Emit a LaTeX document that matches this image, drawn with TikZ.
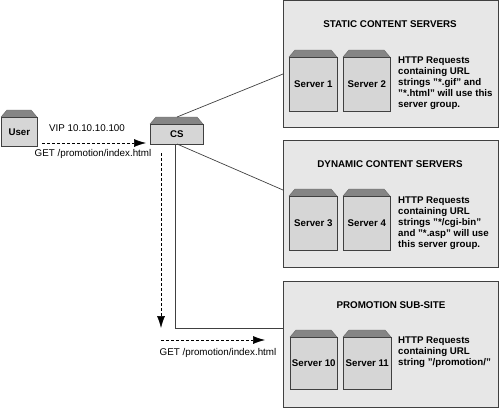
\documentclass[tikz,border=0pt]{standalone}
\usepackage{fontspec}
\setmainfont{Liberation Sans}
\usetikzlibrary{arrows.meta}
\definecolor{panelfill}{gray}{0.905}
\definecolor{boxfill}{gray}{0.84}
\definecolor{roof}{gray}{0.52}
\definecolor{ink}{gray}{0.25}
\definecolor{roofline}{gray}{0.4}
\tikzset{
 x=1pt,y=-1pt,
 panel/.style={draw=ink,fill=panelfill,line width=0.8pt},
 lbl/.style={font=\fontsize{9.8}{11}\selectfont,text=black,inner sep=0pt},
 title/.style={lbl,font=\fontsize{9.8}{11}\selectfont\bfseries},
 note/.style={lbl,font=\fontsize{9.7}{11}\selectfont\bfseries,align=left,anchor=north west},
 conn/.style={draw=ink,line width=0.7pt},
 flow/.style={draw=black,line width=0.6pt,densely dashed,-{Latex[length=12pt,width=8pt]}},
 unitlabel/.style={font=\fontsize{9.7}{10}\selectfont\bfseries},
}
% #1 name, #2 left, #3 top, #4 right, #5 bottom, #6 label
\newcommand{\boxunit}[6]{%
 \fill[roof] (#2,#3+7) -- (#2+6,#3) -- (#4-6,#3) -- (#4,#3+7) -- cycle;
 \draw[roofline,line width=0.4pt] (#2,#3+7) -- (#2+6,#3) -- (#4-6,#3) -- (#4,#3+7);
 \node[draw=ink,fill=boxfill,line width=0.6pt,minimum width=#4pt-#2pt,minimum height=#5pt-#3pt-7pt,inner sep=0pt,anchor=north west,unitlabel] (#1) at (#2,#3+7) {#6};
}
\begin{document}
\begin{tikzpicture}
\useasboundingbox (0,0) rectangle (500,408);
\node[panel,minimum width=215pt,minimum height=127pt,inner sep=0pt,anchor=north west] (p1) at (283,0) {};
\node[panel,minimum width=215pt,minimum height=127pt,inner sep=0pt,anchor=north west] (p2) at (283,140) {};
\node[panel,minimum width=215pt,minimum height=126pt,inner sep=0pt,anchor=north west] (p3) at (283,281) {};
\node[title] (t1) at (390,24) {STATIC CONTENT SERVERS};
\node[title] (t2) at (390,164.5) {DYNAMIC CONTENT SERVERS};
\node[title] (t3) at (391,305) {PROMOTION SUB-SITE};
\boxunit{s1}{289}{50}{337}{111}{Server 1}
\boxunit{s2}{343}{50}{390}{111}{Server 2}
\boxunit{s3}{289}{189}{337}{250}{Server 3}
\boxunit{s4}{343}{189}{390}{250}{Server 4}
\boxunit{s10}{290}{330}{337}{389}{Server 10}
\boxunit{s11}{343}{330}{391}{389}{Server 11}
\boxunit{user}{1}{110}{37}{146}{User}
\boxunit{cs}{150}{117}{203}{144}{CS}
\node[note] (n1) at (398,57) {HTTP Requests\\containing URL\\strings "*.gif" and\\"*.html" will use this\\server group.};
\node[note] (n2) at (398,197) {HTTP Requests\\containing URL\\strings "*/cgi-bin"\\and "*.asp" will use\\this server group.};
\node[note] (n3) at (398,337) {HTTP Requests\\containing URL\\string "/promotion/"};
\coordinate (c1) at (177,117);
\coordinate (a1) at (283,74);
\coordinate (c2) at (177,144);
\coordinate (c3) at (175,144);
\coordinate (a2) at (283,190);
\coordinate (a3) at (283,328);
\coordinate (e1s) at (42,143);
\coordinate (e1e) at (146,143);
\coordinate (e2s) at (161,153);
\coordinate (e2e) at (161,328);
\coordinate (e3s) at (161,340);
\coordinate (e3e) at (265,340);
\draw[conn] (c1) -- (a1);
\draw[conn] (c2) -- (a2);
\draw[conn] (c3) -- (175,328) -- (a3);
\draw[flow] (e1s) -- (e1e);
\draw[flow] (e2s) -- (e2e);
\draw[flow] (e3s) -- (e3e);
\node[lbl] (l1) at (87,128) {VIP 10.10.10.100};
\node[lbl] (l2) at (93,154) {GET /promotion/index.html};
\node[lbl] (l3) at (218,353) {GET /promotion/index.html};
\end{tikzpicture}
\end{document}
